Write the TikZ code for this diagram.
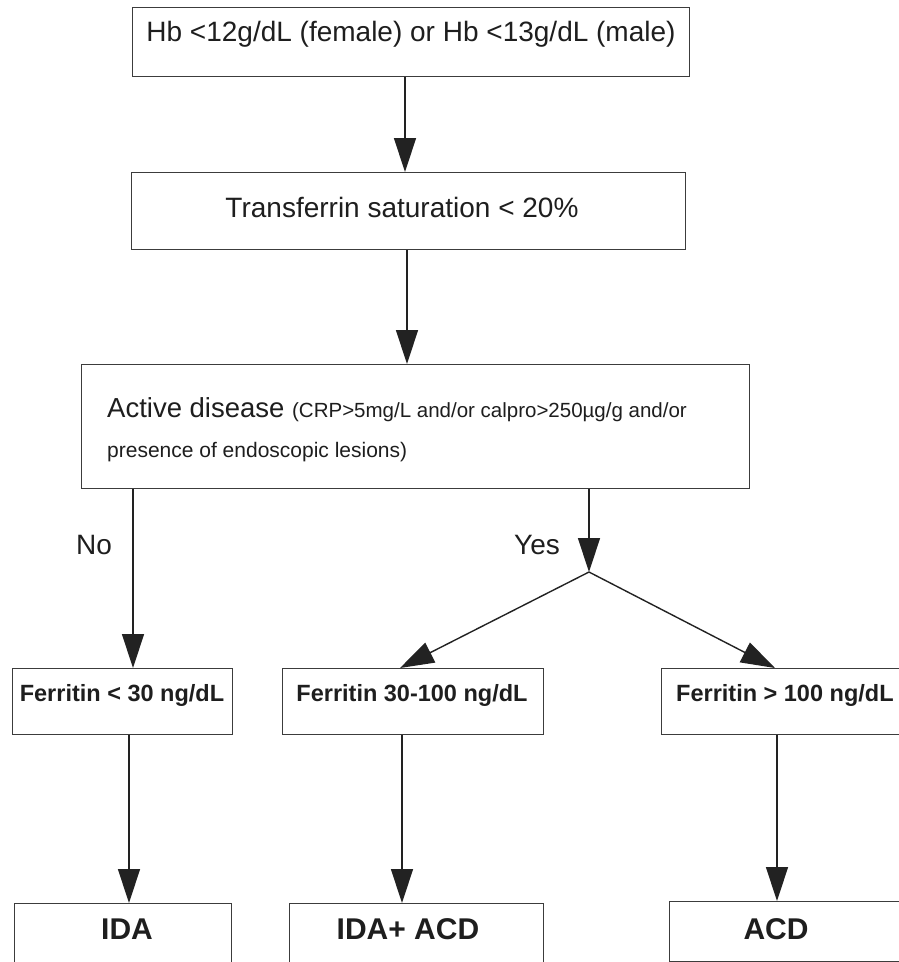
\documentclass[tikz,border=0pt]{standalone}
\usepackage{fontspec}
\setmainfont{Liberation Sans}
\usetikzlibrary{arrows.meta,calc}
\definecolor{txt}{HTML}{1E1E1E}
\definecolor{boxgray}{HTML}{3C3C3C}
\definecolor{linegray}{HTML}{222222}
\begin{document}
\begin{tikzpicture}[x=1pt,y=-1pt,
  box/.style={draw=boxgray, line width=1.3pt, inner sep=0pt, anchor=north west},
  arr/.style={draw=linegray, line width=1.4pt, -{Triangle[length=34pt,width=22pt]}},
  lab/.style={text=txt, inner sep=0pt, anchor=center},
  big/.style={font=\fontsize{28}{32}\selectfont},
  fer/.style={font=\bfseries\fontsize{23.5}{26}\selectfont},
  res/.style={font=\bfseries\fontsize{30}{34}\selectfont}]
\useasboundingbox (0,0) rectangle (898,962);
\fill[white] (0,0) rectangle (898,962);

% boxes
\node[box, minimum width=557pt, minimum height=69pt] (b1) at (132,7) {};
\node[box, minimum width=554pt, minimum height=77pt] (b2) at (131,172) {};
\node[box, minimum width=668pt, minimum height=124pt] (b3) at (81,364) {};
\node[box, minimum width=220pt, minimum height=66pt] (f1) at (12,668) {};
\node[box, minimum width=261pt, minimum height=66pt] (f2) at (282,668) {};
\node[box, minimum width=250pt, minimum height=66pt] (f3) at (661,668) {};
\node[box, minimum width=217pt, minimum height=80pt] (r1) at (14,903) {};
\node[box, minimum width=254pt, minimum height=80pt] (r2) at (289,903) {};
\node[box, minimum width=240pt, minimum height=60pt] (r3) at (669,901) {};

% texts
\node[lab, big] (t1) at (411,34) {Hb <12g/dL (female) or Hb <13g/dL (male)};
\node[lab, big] (t2) at (402,207) {Transferrin saturation < 20\%};
\node[lab, anchor=west] (t3a) at (107,410) {\fontsize{27.5}{30}\selectfont Active disease \fontsize{20.5}{24}\selectfont(CRP>5mg/L and/or calpro>250µg/g and/or};
\node[lab, anchor=west, font=\fontsize{21}{24}\selectfont] (t3b) at (107,452) {presence of endoscopic lesions)};
\node[lab, big] (no) at (94,545) {No};
\node[lab, big] (yes) at (537,545) {Yes};
\node[lab, fer] (tf1) at (122,695) {Ferritin < 30 ng/dL};
\node[lab, fer] (tf2) at (412,695) {Ferritin 30-100 ng/dL};
\node[lab, fer, anchor=west] (tf3) at (676,695) {Ferritin > 100 ng/dL};
\node[lab, res] (tr1) at (127,929) {IDA};
\node[lab, res] (tr2) at (408,929) {IDA+ ACD};
\node[lab, res] (tr3) at (776,929) {ACD};

% connector x positions
\coordinate (xa) at (405,0);
\coordinate (xb) at (407,0);
\coordinate (xno) at (133,0);
\coordinate (xyes) at (589,0);
\coordinate (br) at (589,572);
\coordinate (xf2) at (400,0);
\coordinate (xf3) at (775,0);
\coordinate (xr1) at (129,0);
\coordinate (xr2) at (402,0);
\coordinate (xr3) at (777,0);

% connectors
\draw[arr] (b1.south -| xa) -- (b2.north -| xa);
\draw[arr] (b2.south -| xb) -- (b3.north -| xb);
\draw[arr] (b3.south -| xno) -- (f1.north -| xno);
\draw[arr] (b3.south -| xyes) -- (br);
\draw[arr] (br) -- (f2.north -| xf2);
\draw[arr] (br) -- (f3.north -| xf3);
\draw[arr] (f1.south -| xr1) -- (r1.north -| xr1);
\draw[arr] (f2.south -| xr2) -- (r2.north -| xr2);
\draw[arr] (f3.south -| xr3) -- (r3.north -| xr3);
\end{tikzpicture}
\end{document}
